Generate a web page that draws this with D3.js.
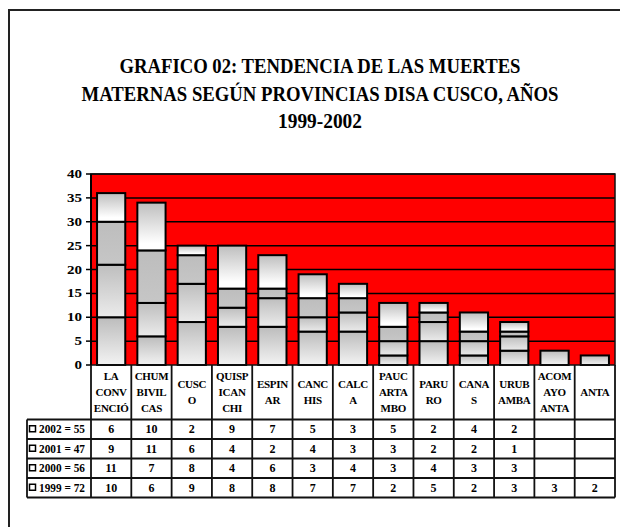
<!DOCTYPE html>
<html>
<head>
<meta charset="utf-8">
<script src="https://cdn.jsdelivr.net/npm/d3@7"></script>
<style>
  html, body { margin: 0; padding: 0; background: #fff; }
  svg { display: block; }
</style>
</head>
<body>
<script>
// Provinces (header cells are wrapped the way they are printed)
const categories = [
  "LA CONVENCIÓ", "CHUMBIVILCAS", "CUSCO", "QUISPICANCHI", "ESPINAR", "CANCHIS",
  "CALCA", "PAUCARTAMBO", "PARURO", "CANAS", "URUBAMBA", "ACOMAYO ANTA", "ANTA"
];
const headerLines = [
  ["LA", "CONV", "ENCIÓ"], ["CHUM", "BIVIL", "CAS"], ["CUSC", "O"], ["QUISP", "ICAN", "CHI"],
  ["ESPIN", "AR"], ["CANC", "HIS"], ["CALC", "A"], ["PAUC", "ARTA", "MBO"],
  ["PARU", "RO"], ["CANA", "S"], ["URUB", "AMBA"], ["ACOM", "AYO", "ANTA"], ["ANTA"]
];

// Maternal deaths per year (null = no value in the table)
const years = ["2002", "2001", "2000", "1999"];
const yearTotals = [55, 47, 56, 72];
const values2002 = [6, 10, 2, 9, 7, 5, 3, 5, 2, 4, 2, null, null];
const values2001 = [9, 11, 6, 4, 2, 4, 3, 3, 2, 2, 1, null, null];
const values2000 = [11, 7, 8, 4, 6, 3, 4, 3, 4, 3, 3, null, null];
const values1999 = [10, 6, 9, 8, 8, 7, 7, 2, 5, 2, 3, 3, 2];
const yTicks = [0, 5, 10, 15, 20, 25, 30, 35, 40];

const titleLines = [
  "GRAFICO 02: TENDENCIA DE LAS MUERTES",
  "MATERNAS SEGÚN PROVINCIAS DISA CUSCO, AÑOS",
  "1999-2002"
];

const seriesByYear = { "2002": values2002, "2001": values2001, "2000": values2000, "1999": values1999 };
const rows = categories.map((c, i) => {
  const r = { cat: c };
  years.forEach(y => { r[y] = seriesByYear[y][i] || 0; });
  return r;
});

const W = 620, H = 527;
const plot = { left: 91, right: 615, top: 174, bottom: 365 };
const tableTop = 365, headerBottom = 419.5, rowH = 19.5, legendLeft = 27;

const svg = d3.select("body").append("svg").attr("width", W).attr("height", H)
  .style("font-family", "Liberation Serif")
  .style("font-weight", "bold");

// Outer frame
svg.append("rect").attr("x", 9).attr("y", 10).attr("width", 640).attr("height", 560)
  .attr("fill", "#fff").attr("stroke", "#222").attr("stroke-width", 2);

// Title
const titleW = [401, 477, 84];
const titleY = [73, 100.5, 128];
titleLines.forEach((t, i) => {
  svg.append("text").attr("x", 320).attr("y", titleY[i])
    .attr("text-anchor", "middle").attr("font-size", 20)
    .style("font-family", "Liberation Serif")
    .attr("textLength", titleW[i]).attr("lengthAdjust", "spacingAndGlyphs")
    .text(t);
});

const x = d3.scaleBand().domain(categories).range([plot.left, plot.right])
  .paddingInner(0.3).paddingOuter(0.15);
const y = d3.scaleLinear().domain([0, 40]).range([plot.bottom, plot.top]);
const step = x.step();
const colLeft = c => x(c) - step * x.paddingOuter();

// Gradients for the stacked segments
const defs = svg.append("defs");
const grads = {
  "1999": [["0%", "#bcbcbc"], ["100%", "#f3f3f3"]],
  "2000": [["0%", "#bebebe"], ["100%", "#ebebeb"]],
  "2001": [["0%", "#bdbdbd"], ["100%", "#c6c6c6"]],
  "2002": [["0%", "#bebebe"], ["85%", "#ffffff"], ["100%", "#ffffff"]]
};
Object.entries(grads).forEach(([k, stops]) => {
  const g = defs.append("linearGradient").attr("id", "g" + k)
    .attr("x1", 0).attr("y1", 0).attr("x2", 0).attr("y2", 1);
  stops.forEach(s => g.append("stop").attr("offset", s[0]).attr("stop-color", s[1]));
});

// Plot background and gridlines
svg.append("rect").attr("x", plot.left).attr("y", plot.top)
  .attr("width", plot.right - plot.left).attr("height", plot.bottom - plot.top)
  .attr("fill", "#ff0000");
svg.append("g").selectAll("line").data(yTicks.filter(t => t > 0)).join("line")
  .attr("x1", plot.left).attr("x2", plot.right)
  .attr("y1", d => y(d)).attr("y2", d => y(d))
  .attr("stroke", "#000").attr("stroke-width", 1.5);

// Stacked bars, 1999 at the bottom
const stack = d3.stack().keys(["1999", "2000", "2001", "2002"]);
const layers = stack(rows);
svg.append("g").selectAll("g").data(layers).join("g")
  .attr("fill", d => `url(#g${d.key})`)
  .selectAll("rect").data(d => d.filter(s => s[1] - s[0] > 0)).join("rect")
  .attr("x", d => x(d.data.cat))
  .attr("width", x.bandwidth())
  .attr("y", d => y(d[1]))
  .attr("height", d => y(d[0]) - y(d[1]))
  .attr("stroke", "#000").attr("stroke-width", 2);

// Plot border
svg.append("rect").attr("x", plot.left).attr("y", plot.top)
  .attr("width", plot.right - plot.left).attr("height", plot.bottom - plot.top)
  .attr("fill", "none").attr("stroke", "#111").attr("stroke-width", 1.5);

// Y axis
const yAxis = svg.append("g");
yAxis.append("line").attr("x1", plot.left).attr("x2", plot.left)
  .attr("y1", plot.top).attr("y2", plot.bottom).attr("stroke", "#000").attr("stroke-width", 2);
yAxis.selectAll("line.tick").data(yTicks).join("line").attr("class", "tick")
  .attr("x1", plot.left - 5).attr("x2", plot.left)
  .attr("y1", d => y(d)).attr("y2", d => y(d))
  .attr("stroke", "#000").attr("stroke-width", 1.5);
yAxis.selectAll("text").data(yTicks).join("text")
  .attr("x", 82).attr("y", d => y(d) + 4)
  .attr("text-anchor", "end").attr("font-size", 12)
  .style("font-family", "Liberation Serif")
  .attr("textLength", d => String(d).length * 7.5).attr("lengthAdjust", "spacingAndGlyphs")
  .text(d => d);

// Data table
const table = svg.append("g");
const tableBottom = headerBottom + rowH * years.length;

// Header cells
categories.forEach((c, i) => {
  const lines = headerLines[i];
  const cx = colLeft(c) + step / 2;
  const mid = (tableTop + headerBottom) / 2 + 3.5;
  lines.forEach((ln, j) => {
    table.append("text").attr("x", cx)
      .attr("y", mid + (j - (lines.length - 1) / 2) * 16)
      .attr("text-anchor", "middle").attr("font-size", 11)
      .style("font-family", "Liberation Serif")
      .attr("letter-spacing", -0.3).text(ln);
  });
});

// Rows: legend key plus values
years.forEach((yr, r) => {
  const top = headerBottom + r * rowH;
  const cy = top + rowH / 2;
  table.append("rect").attr("x", 29.5).attr("y", cy - 3.5).attr("width", 6).attr("height", 6)
    .attr("fill", "#fff").attr("stroke", "#000").attr("stroke-width", 1.5);
  table.append("text").attr("x", 39).attr("y", cy + 4).attr("font-size", 11.5)
    .style("font-family", "Liberation Serif")
    .attr("textLength", 46).attr("lengthAdjust", "spacingAndGlyphs")
    .text(`${yr} = ${yearTotals[r]}`);
  seriesByYear[yr].forEach((v, i) => {
    if (v == null) return;
    table.append("text").attr("x", colLeft(categories[i]) + step / 2).attr("y", cy + 4)
      .attr("text-anchor", "middle").attr("font-size", 12)
      .style("font-family", "Liberation Serif").text(v);
  });
});

// Table grid
const hLines = d3.range(years.length + 1).map(k => headerBottom + k * rowH);
table.selectAll("line.h").data(hLines).join("line").attr("class", "h")
  .attr("x1", legendLeft).attr("x2", plot.right)
  .attr("y1", d => d).attr("y2", d => d)
  .attr("stroke", "#111").attr("stroke-width", 1.8);
const vLines = categories.map(colLeft).concat([plot.right]);
table.selectAll("line.v").data(vLines).join("line").attr("class", "v")
  .attr("x1", d => d).attr("x2", d => d)
  .attr("y1", tableTop).attr("y2", tableBottom)
  .attr("stroke", "#111").attr("stroke-width", 1.8);
table.append("line").attr("x1", legendLeft).attr("x2", legendLeft)
  .attr("y1", headerBottom).attr("y2", tableBottom)
  .attr("stroke", "#111").attr("stroke-width", 1.8);
</script>
</body>
</html>
